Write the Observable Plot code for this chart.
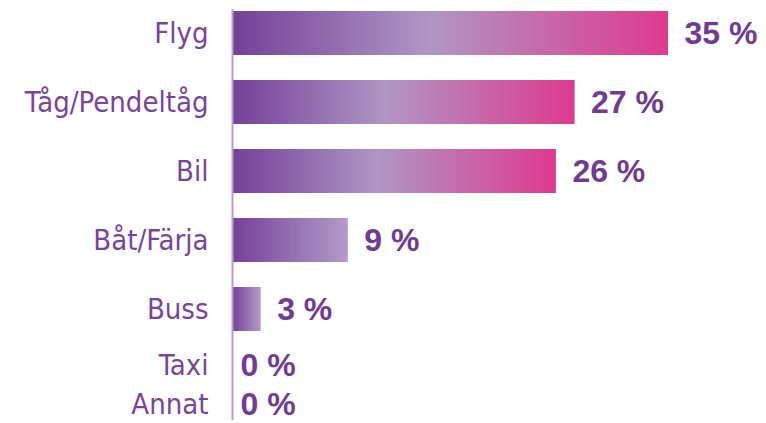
<!DOCTYPE html>
<html>
<head>
<meta charset="utf-8">
<script src="https://cdn.jsdelivr.net/npm/d3@7"></script>
<script src="https://cdn.jsdelivr.net/npm/@observablehq/plot@0.6"></script>
<style>
  html, body { margin: 0; padding: 0; background: #fff; }
  #chart svg { display: block; }
</style>
</head>
<body>
<svg width="0" height="0" style="position:absolute">
  <defs>
    <linearGradient id="gLong" x1="0" x2="1" y1="0" y2="0">
      <stop offset="0" stop-color="#744099"/>
      <stop offset="0.45" stop-color="#b096c4"/>
      <stop offset="1" stop-color="#de3a8e"/>
    </linearGradient>
    <linearGradient id="gShort" x1="0" x2="1" y1="0" y2="0">
      <stop offset="0" stop-color="#744099"/>
      <stop offset="1" stop-color="#b39bc8"/>
    </linearGradient>
  </defs>
</svg>
<div id="chart"></div>
<script>
const categories = ["Flyg", "Tåg/Pendeltåg", "Bil", "Båt/Färja", "Buss", "Taxi", "Annat"];
const values = [35, 27.5, 26, 9.3, 2.3, 0, 0];
const valueLabels = ["35 %", "27 %", "26 %", "9 %", "3 %", "0 %", "0 %"];

const data = categories.map((c, i) => ({cat: c, value: values[i], label: valueLabels[i]}));
const topData = data.slice(0, 5);
const bottomData = data.slice(5);

const catFont = "'Liberation Sans Narrow', 'DejaVu Sans Condensed', sans-serif";
const valFont = "'Liberation Sans', 'DejaVu Sans', sans-serif";
const textColor = "#7a449b";
const valColor = "#723b92";
const axisColor = "#b99ccb";

function makePlot(rows, height, yopts, marginTop, marginBottom) {
  return Plot.plot({
    width: 766,
    height,
    marginLeft: 232,
    marginRight: 98,
    marginTop,
    marginBottom,
    x: {domain: [0, 35], axis: null},
    y: {domain: rows.map(d => d.cat), label: null, ...yopts},
    marks: [
      Plot.barX(rows.filter(d => d.value >= 20), {x: "value", y: "cat", fill: "url(#gLong)"}),
      Plot.barX(rows.filter(d => d.value > 0 && d.value < 20), {x: "value", y: "cat", fill: "url(#gShort)"}),
      Plot.ruleX([0], {stroke: axisColor, strokeWidth: 2}),
      Plot.axisY({tickSize: 0, tickPadding: 24, fontSize: 29, fontFamily: catFont, fill: textColor, label: null}),
      Plot.text(rows.filter(d => d.value > 0), {x: "value", y: "cat", text: "label", textAnchor: "start", dx: 16, fontSize: 32, fontWeight: "bold", fontFamily: valFont, fill: valColor}),
      Plot.text(rows.filter(d => d.value === 0), {x: "value", y: "cat", text: "label", textAnchor: "start", dx: 8, fontSize: 32, fontWeight: "bold", fontFamily: valFont, fill: valColor})
    ]
  });
}

const chart = document.getElementById("chart");
chart.append(makePlot(topData, 338, {range: [3, 338], paddingInner: 0.365, paddingOuter: 0.1}, 9, 0));
chart.append(makePlot(bottomData, 85, {range: [8, 86], padding: 0}, 0, 3));
</script>
</body>
</html>
